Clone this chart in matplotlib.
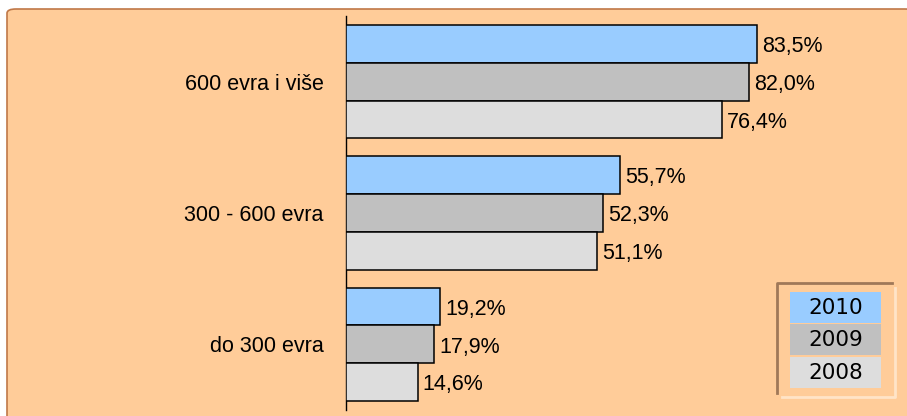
import matplotlib
matplotlib.use("Agg")
import matplotlib.pyplot as plt
from matplotlib.patches import FancyBboxPatch, Rectangle
from matplotlib.lines import Line2D

categories = ["600 evra i više", "300 - 600 evra", "do 300 evra"]
years = ["2010", "2009", "2008"]
values = {
    "2010": [83.5, 55.7, 19.2],
    "2009": [82.0, 52.3, 17.9],
    "2008": [76.4, 51.1, 14.6],
}
colors = {"2010": "#99CCFF", "2009": "#C0C0C0", "2008": "#DDDDDD"}

W, H = 907, 416
fig = plt.figure(figsize=(W / 100, H / 100), dpi=100)
fig.patch.set_facecolor("white")

# orange panel behind everything
panel = FancyBboxPatch((7 / W, -0.05), 1.0, 1 - 9 / H + 0.05,
                       boxstyle="round,pad=0,rounding_size=0.01",
                       transform=fig.transFigure, facecolor="#FFCC99",
                       edgecolor="#C07848", linewidth=1.2, zorder=-5)
fig.patches.append(panel)

ax = fig.add_axes([346 / W, 1 - 410 / H, 492 / W, 394 / H])
ax.set_facecolor("none")
ax.set_zorder(2)
h = 37.5 / 130
ypos = [2, 1, 0]
offsets = {"2010": h, "2009": 0, "2008": -h}

for yr in years:
    ys = [y + offsets[yr] for y in ypos]
    ax.barh(ys, values[yr], height=h, color=colors[yr], edgecolor="black",
            linewidth=1.1, zorder=3)
    for y, v in zip(ys, values[yr]):
        ax.annotate(f"{v:.1f}%".replace(".", ","), (v, y), xytext=(3.5, -2),
                    textcoords="offset points", va="center", ha="left",
                    fontsize=15.5, family="Liberation Sans")

ax.set_xlim(0, 100)
ax.set_ylim(-0.5, 2.5)
ax.set_xticks([])
ax.set_yticks(ypos)
ax.set_yticklabels(categories, fontsize=15.5, family="Liberation Sans")
ax.tick_params(axis="y", length=0, pad=16)
for s in ["top", "right", "bottom"]:
    ax.spines[s].set_visible(False)
ax.spines["left"].set_linewidth(1.0)

# legend box
fig.lines.append(Line2D([777 / W, 777 / W, 892 / W], [1 - 393 / H, 1 - 283 / H, 1 - 283 / H],
                        transform=fig.transFigure, color="#A07858", linewidth=2))
fig.lines.append(Line2D([782 / W, 895 / W, 895 / W], [1 - 397 / H, 1 - 397 / H, 1 - 288 / H],
                        transform=fig.transFigure, color="#FFE4C8", linewidth=2))
ytops = [292, 324, 357]
for yr, yt in zip(years, ytops):
    fig.patches.append(Rectangle((790 / W, 1 - (yt + 31) / H), 91 / W, 31 / H,
                                 transform=fig.transFigure, facecolor=colors[yr],
                                 edgecolor="none"))
    fig.text(835.5 / W, 1 - (yt + 16) / H, yr, ha="center", va="center",
             fontsize=15.5, family="DejaVu Sans")

fig.savefig("out.png", dpi=100)
